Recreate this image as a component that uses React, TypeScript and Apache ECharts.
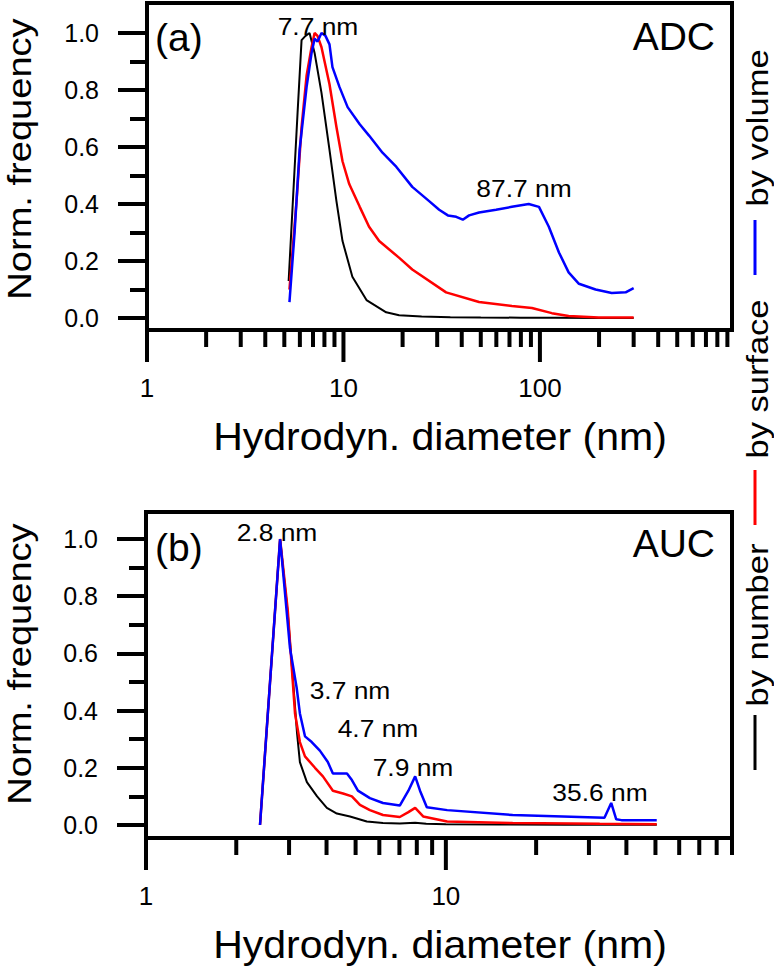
import React, { useEffect, useRef } from "react";
import * as echarts from "echarts";

// ---------- data: (a) ADC ----------
const adcNumberD = [5.26, 5.84, 6.12, 6.41, 6.72, 7.13, 7.73, 8.49, 9.21, 9.89, 11.1, 13.1, 16.5, 19.2, 25, 35, 50, 80, 120, 200, 300];
const adcNumberV = [0.13, 0.72, 0.975, 0.99, 1.0, 0.93, 0.79, 0.59, 0.41, 0.27, 0.145, 0.063, 0.02, 0.01, 0.005, 0.003, 0.002, 0.001, 0.001, 0.0, 0.0];

const adcSurfaceD = [5.31, 5.77, 6.12, 6.49, 6.88, 7.13, 7.38, 7.73, 8.49, 9.21, 9.89, 10.7, 12.1, 13.5, 15.2, 19.3, 22.4, 33.3, 49, 72, 91, 115, 140, 199, 300];
const adcSurfaceV = [0.1, 0.41, 0.67, 0.85, 0.95, 1.0, 0.99, 0.95, 0.82, 0.67, 0.55, 0.47, 0.39, 0.32, 0.27, 0.21, 0.17, 0.09, 0.056, 0.042, 0.035, 0.017, 0.007, 0.002, 0.002];

const adcVolumeD = [5.31, 5.64, 5.98, 6.49, 6.88, 7.13, 7.38, 7.73, 8.1, 8.49, 8.79, 9.55, 10.5, 12.1, 13.5, 15.8, 18.6, 22.4, 27.3, 30.7, 34, 37.5, 40.5, 43.6, 49, 59.8, 72, 87.7, 98.9, 111, 125, 140, 158, 192, 232, 273, 300];
const adcVolumeV = [0.056, 0.3, 0.59, 0.81, 0.93, 0.98, 0.97, 1.0, 0.99, 0.96, 0.88, 0.81, 0.74, 0.68, 0.64, 0.58, 0.53, 0.46, 0.41, 0.38, 0.36, 0.355, 0.345, 0.36, 0.37, 0.38, 0.39, 0.4, 0.39, 0.32, 0.23, 0.16, 0.12, 0.1, 0.088, 0.09, 0.105];

// ---------- data: (b) AUC ----------
const aucNumberD = [2.4, 2.8, 2.97, 3.09, 3.19, 3.26, 3.44, 3.72, 4.01, 4.33, 4.79, 5.45, 6.17, 7.02, 7.9, 8.6, 10, 15, 25, 35.6, 50.5];
const aucNumberV = [0.0, 1.0, 0.74, 0.51, 0.32, 0.22, 0.15, 0.1, 0.06, 0.04, 0.03, 0.012, 0.007, 0.005, 0.008, 0.004, 0.003, 0.002, 0.001, 0.002, 0.001];

const aucSurfaceD = [2.4, 2.8, 2.97, 3.14, 3.26, 3.39, 3.66, 3.89, 4.2, 4.54, 4.86, 5.17, 5.58, 6.17, 7.02, 7.5, 7.9, 8.4, 10.1, 16.7, 32.6, 50.5];
const aucSurfaceV = [0.0, 1.0, 0.75, 0.39, 0.29, 0.24, 0.2, 0.17, 0.12, 0.11, 0.1, 0.07, 0.052, 0.035, 0.028, 0.045, 0.06, 0.03, 0.012, 0.007, 0.004, 0.003];

const aucVolumeD = [2.4, 2.8, 3.02, 3.18, 3.26, 3.39, 3.57, 3.8, 4.04, 4.2, 4.68, 4.86, 5.09, 5.58, 6.17, 7.02, 7.5, 7.9, 8.2, 8.64, 10.1, 16.7, 33.8, 35.6, 37.0, 38.5, 50.5];
const aucVolumeV = [0.0, 1.0, 0.62, 0.48, 0.39, 0.31, 0.29, 0.26, 0.22, 0.18, 0.18, 0.157, 0.12, 0.094, 0.077, 0.068, 0.12, 0.17, 0.12, 0.062, 0.052, 0.035, 0.025, 0.077, 0.02, 0.017, 0.017];

// ---------- axes ----------
const adcXRange = [1, 950];
const aucXRange = [1, 90];
const adcMajorTicks = [1, 10, 100];
const adcMinorTicks = [2, 3, 4, 5, 6, 7, 8, 9, 20, 30, 40, 50, 60, 70, 80, 90, 200, 300, 400, 500, 600, 700, 800, 900];
const aucMajorTicks = [1, 10];
const aucMinorTicks = [2, 3, 4, 5, 6, 7, 8, 9, 20, 30, 40, 50, 60, 70, 80, 90];

const seriesNames = ["by number", "by surface", "by volume"];
const seriesColors = ["#000000", "#ff0000", "#0000ff"];

const F = '"Liberation Sans", Arial, sans-serif';

function lineSeries(name: string, d: number[], v: number[], color: string, width: number, gi: number) {
  return {
    name,
    type: "line",
    xAxisIndex: gi,
    yAxisIndex: gi,
    data: d.map((x, i) => [x, v[i]]),
    showSymbol: false,
    symbol: "none",
    clip: false,
    silent: true,
    lineStyle: { color, width },
    itemStyle: { color },
    z: 3,
  };
}

function tickSeries(vals: number[], len: number, gi: number, offset: number) {
  return {
    type: "custom",
    xAxisIndex: gi,
    yAxisIndex: gi,
    data: vals.map((v) => [v, 0]),
    clip: false,
    silent: true,
    z: 5,
    renderItem: (params: any, api: any) => {
      const x = api.coord([api.value(0), 0])[0];
      const cs = params.coordSys;
      const y0 = cs.y + cs.height + offset;
      return {
        type: "line",
        shape: { x1: x, y1: y0, x2: x, y2: y0 + len },
        style: { stroke: "#000", lineWidth: 4 },
      };
    },
  };
}

function xAxisCfg(gi: number, range: number[], offset: number) {
  return {
    gridIndex: gi,
    type: "log",
    logBase: 10,
    min: range[0],
    max: range[1],
    offset,
    axisLine: { show: true, onZero: false, lineStyle: { color: "#000", width: 4 } },
    axisTick: { show: false },
    minorTick: { show: false },
    splitLine: { show: false },
    axisLabel: {
      color: "#000",
      fontSize: 26,
      fontFamily: F,
      margin: 45,
      showMaxLabel: false,
    },
  };
}

function yAxisCfg(gi: number) {
  return {
    gridIndex: gi,
    type: "value",
    min: 0,
    max: 1,
    interval: 0.2,
    axisLine: { show: false },
    axisTick: { show: true, length: 29, lineStyle: { color: "#000", width: 4 } },
    minorTick: { show: true, splitNumber: 2, length: 17, lineStyle: { color: "#000", width: 4 } },
    splitLine: { show: false },
    minorSplitLine: { show: false },
    axisLabel: {
      color: "#000",
      fontSize: 25,
      fontFamily: F,
      margin: 48,
      formatter: (v: number) => v.toFixed(1),
    },
  };
}

function txt(text: string, x: number, y: number, size: number, align = "center", rotation = 0, sx = 1, color = "#000") {
  return {
    type: "text",
    x,
    y,
    rotation,
    scaleX: sx,
    scaleY: 1,
    z: 50,
    silent: true,
    style: {
      text,
      fontSize: size,
      fontFamily: F,
      fill: color,
      align,
      verticalAlign: "middle",
      textAlign: align,
      textVerticalAlign: "middle",
    },
  };
}

function vline(x: number, y1: number, y2: number, color: string) {
  return {
    type: "line",
    z: 50,
    silent: true,
    shape: { x1: x, y1, x2: x, y2 },
    style: { stroke: color, lineWidth: 3 },
  };
}

export default function App() {
  const ref = useRef<HTMLDivElement>(null);

  useEffect(() => {
    if (!ref.current) return;
    const chart = echarts.init(ref.current, null, { renderer: "svg" });
    const option: any = {
      animation: false,
      backgroundColor: "#ffffff",
      grid: [
        { left: 147, top: 33, width: 585, height: 285, containLabel: false },
        { left: 146, top: 539, width: 586, height: 286, containLabel: false },
      ],
      xAxis: [xAxisCfg(0, adcXRange, 12), xAxisCfg(1, aucXRange, 13)],
      yAxis: [yAxisCfg(0), yAxisCfg(1)],
      series: [
        lineSeries(seriesNames[0], adcNumberD, adcNumberV, seriesColors[0], 2, 0),
        lineSeries(seriesNames[1], adcSurfaceD, adcSurfaceV, seriesColors[1], 2.5, 0),
        lineSeries(seriesNames[2], adcVolumeD, adcVolumeV, seriesColors[2], 2.5, 0),
        lineSeries(seriesNames[0], aucNumberD, aucNumberV, seriesColors[0], 2, 1),
        lineSeries(seriesNames[1], aucSurfaceD, aucSurfaceV, seriesColors[1], 2.5, 1),
        lineSeries(seriesNames[2], aucVolumeD, aucVolumeV, seriesColors[2], 2.5, 1),
        tickSeries(adcMajorTicks, 32, 0, 12),
        tickSeries(adcMinorTicks, 17, 0, 12),
        tickSeries(aucMajorTicks, 32, 1, 13),
        tickSeries(aucMinorTicks, 17, 1, 13),
      ],
      graphic: [
        // frames
        { type: "rect", z: 40, silent: true, shape: { x: 147, y: 3, width: 585, height: 327 }, style: { fill: "none", stroke: "#000", lineWidth: 4 } },
        { type: "rect", z: 40, silent: true, shape: { x: 146, y: 512, width: 586, height: 326 }, style: { fill: "none", stroke: "#000", lineWidth: 4 } },
        // axis titles
        txt("Norm. frequency", 19, 159, 34, "center", Math.PI / 2, 1.12),
        txt("Norm. frequency", 19, 664, 34, "center", Math.PI / 2, 1.12),
        txt("Hydrodyn. diameter (nm)", 440, 437, 38, "center", 0, 1.08),
        txt("Hydrodyn. diameter (nm)", 440, 945, 38, "center", 0, 1.08),
        // panel labels
        txt("(a)", 155, 37, 39, "left"),
        txt("ADC", 715, 36, 39, "right"),
        txt("(b)", 155, 547, 39, "left"),
        txt("AUC", 715, 543, 39, "right"),
        // peak annotations
        txt("7.7 nm", 318, 26, 24, "center", 0, 1.1),
        txt("87.7 nm", 524, 188, 24, "center", 0, 1.1),
        txt("2.8 nm", 277, 532, 24, "center", 0, 1.1),
        txt("3.7 nm", 350, 690, 24, "center", 0, 1.1),
        txt("4.7 nm", 378, 728, 24, "center", 0, 1.1),
        txt("7.9 nm", 413, 767, 24, "center", 0, 1.1),
        txt("35.6 nm", 600, 792, 24, "center", 0, 1.1),
        // legend (rotated)
        vline(755, 715, 770, seriesColors[0]),
        txt(seriesNames[0], 758, 625, 30, "center", Math.PI / 2, 1.15),
        vline(755, 470, 525, seriesColors[1]),
        txt(seriesNames[1], 758, 379, 30, "center", Math.PI / 2, 1.15),
        vline(755, 220, 275, seriesColors[2]),
        txt(seriesNames[2], 758, 128, 30, "center", Math.PI / 2, 1.15),
      ],
    };
    chart.setOption(option);
    return () => chart.dispose();
  }, []);

  return (
    <div
      ref={ref}
      style={{ position: "absolute", left: 0, top: 0, width: 774, height: 968, background: "#fff" }}
    />
  );
}
